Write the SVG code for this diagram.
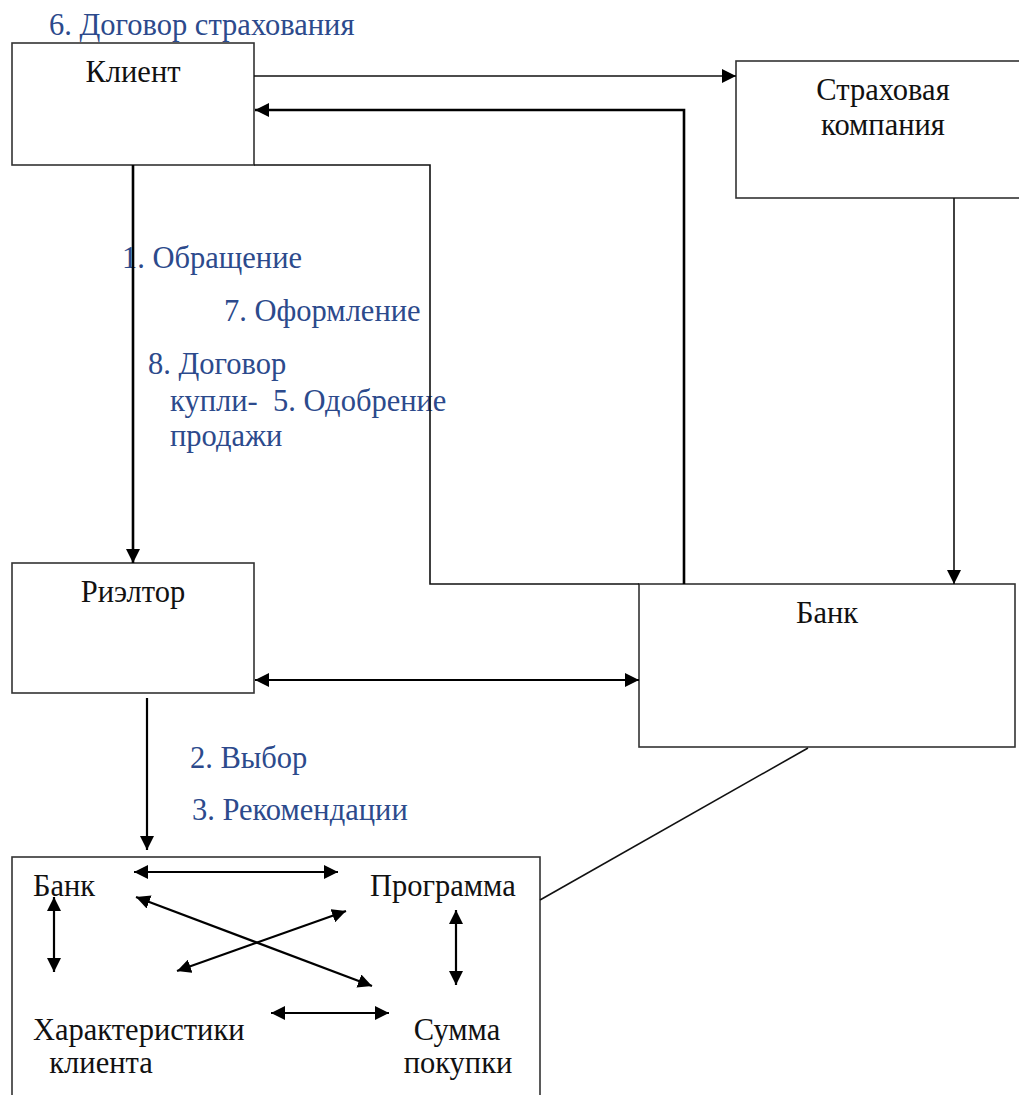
<svg xmlns="http://www.w3.org/2000/svg" width="1019" height="1095" viewBox="0 0 1019 1095">
<defs>
<marker id="ah" viewBox="0 0 10 10" refX="10" refY="5" markerWidth="14" markerHeight="14" markerUnits="userSpaceOnUse" orient="auto-start-reverse">
<path d="M0,0 L10,5 L0,10 z" fill="#000"/>
</marker>
<style>
.box{fill:#fff;stroke:#333;stroke-width:1.6}
.t{font-family:"Liberation Serif","Times New Roman",serif;font-size:30.5px;fill:#111}
.b{font-family:"Liberation Serif","Times New Roman",serif;font-size:30.5px;fill:#2c4a8c}
.c{fill:none;stroke:#111;stroke-width:1.6}
.c2{fill:none;stroke:#000;stroke-width:2.6}
.c3{fill:none;stroke:#000;stroke-width:2.2}
</style>
</defs>
<rect width="1019" height="1095" fill="#fff"/>
<g id="client">
<rect class="box" x="12" y="43" width="242" height="122"/>
<text class="t" x="133" y="82" text-anchor="middle">Клиент</text>
</g>
<g id="insurance">
<rect class="box" x="736" y="61" width="300" height="137"/>
<text class="t" x="883" y="100" text-anchor="middle">Страховая</text>
<text class="t" x="883" y="135" text-anchor="middle">компания</text>
</g>
<g id="realtor">
<rect class="box" x="12" y="563" width="242" height="130"/>
<text class="t" x="133" y="602" text-anchor="middle">Риэлтор</text>
</g>
<g id="bank">
<rect class="box" x="639" y="584" width="376" height="163"/>
<text class="t" x="827" y="623" text-anchor="middle">Банк</text>
</g>
<g id="choice">
<rect class="box" x="12" y="857" width="528" height="260"/>
<text class="t" x="33" y="896">Банк</text>
<text class="t" x="370" y="896">Программа</text>
<text class="t" x="33" y="1040">Характеристики</text>
<text class="t" x="101" y="1073" text-anchor="middle">клиента</text>
<text class="t" x="457" y="1040" text-anchor="middle">Сумма</text>
<text class="t" x="458" y="1073" text-anchor="middle">покупки</text>
</g>
<g id="labels">
<text class="b" x="49" y="35">6. Договор страхования</text>
<text class="b" x="122" y="268">1. Обращение</text>
<text class="b" x="224" y="321">7. Оформление</text>
<text class="b" x="148" y="374">8. Договор</text>
<text class="b" x="170" y="411">купли-</text>
<text class="b" x="273" y="411">5. Одобрение</text>
<text class="b" x="170" y="446">продажи</text>
<text class="b" x="190" y="768">2. Выбор</text>
<text class="b" x="192" y="820">3. Рекомендации</text>
</g>
<g id="connectors">
<line class="c" x1="254" y1="76" x2="736" y2="76" marker-end="url(#ah)"/>
<polyline class="c2" points="684,584 684,110 255,110" marker-end="url(#ah)"/>
<polyline class="c" points="254,165 430,165 430,584 639,584"/>
<line class="c" x1="954" y1="198" x2="954" y2="584" marker-end="url(#ah)"/>
<line class="c2" x1="133" y1="165" x2="133" y2="563" marker-end="url(#ah)"/>
<line class="c3" x1="255" y1="680" x2="639" y2="680" marker-start="url(#ah)" marker-end="url(#ah)"/>
<line class="c3" x1="147" y1="698" x2="147" y2="850" marker-end="url(#ah)"/>
<line class="c" x1="808" y1="748" x2="540" y2="900"/>
<line class="c3" x1="134" y1="872" x2="338" y2="872" marker-start="url(#ah)" marker-end="url(#ah)"/>
<line class="c3" x1="54" y1="897" x2="54" y2="972" marker-start="url(#ah)" marker-end="url(#ah)"/>
<line class="c3" x1="136" y1="897" x2="372" y2="986" marker-start="url(#ah)" marker-end="url(#ah)"/>
<line class="c3" x1="346" y1="911" x2="177" y2="971" marker-start="url(#ah)" marker-end="url(#ah)"/>
<line class="c3" x1="456" y1="910" x2="456" y2="985" marker-start="url(#ah)" marker-end="url(#ah)"/>
<line class="c3" x1="271" y1="1013" x2="389" y2="1013" marker-start="url(#ah)" marker-end="url(#ah)"/>
</g>
</svg>
